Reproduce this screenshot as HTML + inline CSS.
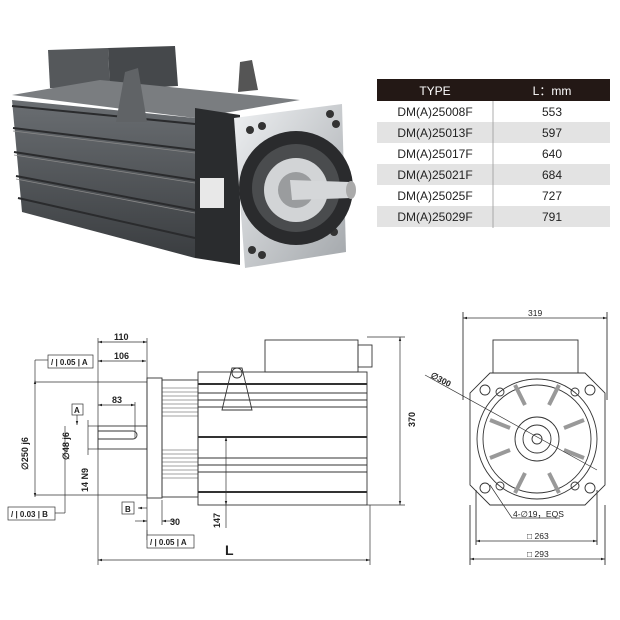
<!DOCTYPE html>
<html><head><meta charset="utf-8"><style>
body{margin:0;background:#fff}
svg{display:block}
text{font-family:"Liberation Sans",sans-serif;fill:#222}
</style></head><body>
<svg width="620" height="620" viewBox="0 0 620 620" xmlns="http://www.w3.org/2000/svg">
<defs>
<linearGradient id="bd" x1="0" y1="0" x2="0" y2="1"><stop offset="0" stop-color="#6a6e72"/><stop offset="1" stop-color="#3a3d40"/></linearGradient>
<linearGradient id="sv" x1="0" y1="0" x2="1" y2="1"><stop offset="0" stop-color="#eef0f2"/><stop offset="1" stop-color="#a3a7ab"/></linearGradient>
<marker id="a" viewBox="0 0 10 10" refX="10" refY="5" markerWidth="6" markerHeight="6" orient="auto-start-reverse"><path d="M0,2 L10,5 L0,8z" fill="#222"/></marker>
</defs>
<!-- PHOTO -->
<polygon points="48,50 108,48 110,90 50,88" fill="#55585b"/>
<polygon points="108,48 175,46 178,86 110,90" fill="#45484b"/>
<polygon points="12,95 100,80 300,100 195,118" fill="#7a7d80"/>
<polygon points="12,100 195,118 195,258 22,212" fill="url(#bd)"/>
<g stroke="#2a2b2d" stroke-width="2"><line x1="12" y1="106" x2="195" y2="124"/><line x1="13" y1="128" x2="195" y2="150"/><line x1="14" y1="152" x2="195" y2="180"/><line x1="16" y1="176" x2="195" y2="210"/><line x1="18" y1="198" x2="195" y2="238"/></g>
<g stroke="#888" stroke-width="0.8"><line x1="13" y1="131" x2="195" y2="153"/><line x1="14" y1="155" x2="195" y2="183"/><line x1="16" y1="179" x2="195" y2="213"/></g>
<polygon points="125,72 138,68 147,122 116,122" fill="#606366"/>
<polygon points="240,62 252,60 258,90 238,92" fill="#555"/>
<polygon points="195,108 240,115 240,265 195,258" fill="#2a2c2e"/>
<rect x="200" y="178" width="24" height="30" fill="#e8e8e8"/>
<polygon points="234,118 342,104 346,252 245,268" fill="url(#sv)"/>
<g fill="#333"><circle cx="250" cy="130" r="4"/><circle cx="262" cy="126" r="4"/><circle cx="330" cy="114" r="4"/><circle cx="336" cy="124" r="4"/><circle cx="252" cy="250" r="4"/><circle cx="262" cy="255" r="4"/><circle cx="334" cy="232" r="4"/><circle cx="337" cy="220" r="4"/></g>
<circle cx="296" cy="188" r="57" fill="#2a2b2d"/>
<circle cx="296" cy="188" r="44" fill="#4a4c4e"/>
<circle cx="296" cy="190" r="32" fill="#d2d4d6"/>
<circle cx="296" cy="190" r="18" fill="#9a9c9e"/>
<polygon points="290,180 350,182 352,198 292,200" fill="#d5d7d9"/>
<ellipse cx="351" cy="190" rx="5" ry="9" fill="#aaa"/>
<!-- TABLE -->
<rect x="377" y="79" width="233" height="22" fill="#231815"/>
<rect x="377" y="122" width="233" height="21" fill="#e3e3e3"/>
<rect x="377" y="164" width="233" height="21" fill="#e3e3e3"/>
<rect x="377" y="206" width="233" height="21" fill="#e3e3e3"/>
<line x1="493" y1="101" x2="493" y2="228" stroke="#999" stroke-width="0.8"/>
<g font-size="12" text-anchor="middle">
<text x="435" y="95" style="fill:#fff">TYPE</text><text x="552" y="95" style="fill:#fff">L：mm</text>
<text x="435" y="116">DM(A)25008F</text><text x="552" y="116">553</text>
<text x="435" y="137">DM(A)25013F</text><text x="552" y="137">597</text>
<text x="435" y="158">DM(A)25017F</text><text x="552" y="158">640</text>
<text x="435" y="179">DM(A)25021F</text><text x="552" y="179">684</text>
<text x="435" y="200">DM(A)25025F</text><text x="552" y="200">727</text>
<text x="435" y="221">DM(A)25029F</text><text x="552" y="221">791</text>
</g>
<!-- SIDE VIEW -->
<g fill="none" stroke="#333" stroke-width="0.9">
<rect x="265" y="340" width="93" height="32"/>
<rect x="358" y="345" width="14" height="22"/>
<rect x="198" y="372" width="169" height="133"/>
<line x1="198" y1="384" x2="367" y2="384" stroke-width="2"/>
<line x1="198" y1="393" x2="367" y2="393"/><line x1="198" y1="400" x2="367" y2="400"/><line x1="198" y1="407" x2="367" y2="407"/>
<line x1="198" y1="437" x2="367" y2="437" stroke-width="2"/>
<line x1="198" y1="458" x2="367" y2="458"/><line x1="198" y1="465" x2="367" y2="465"/><line x1="198" y1="472" x2="367" y2="472"/>
<line x1="198" y1="492" x2="367" y2="492" stroke-width="2"/>
<path d="M222,410 L232,368 L242,368 L252,410 Z"/><circle cx="237" cy="373" r="5"/>
<rect x="147" y="378" width="15" height="120"/>
<rect x="162" y="380" width="36" height="117"/>
<rect x="98" y="426" width="49" height="23"/>
<path d="M98,431 H133 A4,4 0 0 1 133,439 H98"/>
</g>
<g stroke="#444" stroke-width="0.5">
<line x1="162" y1="388" x2="198" y2="388"/><line x1="162" y1="392" x2="198" y2="392"/><line x1="162" y1="396" x2="198" y2="396"/><line x1="162" y1="400" x2="198" y2="400"/><line x1="162" y1="404" x2="198" y2="404"/><line x1="162" y1="408" x2="198" y2="408"/><line x1="162" y1="412" x2="198" y2="412"/><line x1="162" y1="416" x2="198" y2="416"/>
<line x1="162" y1="450" x2="198" y2="450"/><line x1="162" y1="454" x2="198" y2="454"/><line x1="162" y1="458" x2="198" y2="458"/><line x1="162" y1="462" x2="198" y2="462"/><line x1="162" y1="466" x2="198" y2="466"/><line x1="162" y1="470" x2="198" y2="470"/><line x1="162" y1="474" x2="198" y2="474"/><line x1="162" y1="478" x2="198" y2="478"/>
</g>
<!-- dims -->
<g stroke="#333" stroke-width="0.7" fill="none">
<line x1="98" y1="338" x2="98" y2="565"/><line x1="147" y1="338" x2="147" y2="540"/>
<line x1="98" y1="342" x2="147" y2="342" marker-start="url(#a)" marker-end="url(#a)"/>
<line x1="98" y1="361" x2="146" y2="361" marker-start="url(#a)" marker-end="url(#a)"/>
<line x1="98" y1="405" x2="135" y2="405" marker-start="url(#a)" marker-end="url(#a)"/><line x1="135" y1="402" x2="135" y2="438"/>
<line x1="98" y1="560" x2="370" y2="560" marker-start="url(#a)" marker-end="url(#a)"/>
<line x1="370" y1="505" x2="370" y2="565"/>
<line x1="35" y1="382" x2="147" y2="382"/><line x1="35" y1="495" x2="147" y2="495"/>
<line x1="35" y1="380" x2="35" y2="497" marker-start="url(#a)" marker-end="url(#a)"/>
<line x1="35" y1="360" x2="35" y2="380"/><line x1="35" y1="360" x2="48" y2="360"/>
<line x1="88" y1="426" x2="98" y2="426"/><line x1="88" y1="449" x2="98" y2="449"/>
<line x1="88" y1="420" x2="88" y2="455"/>
<line x1="65" y1="426" x2="65" y2="513"/><line x1="55" y1="513" x2="65" y2="513"/>
<line x1="77" y1="414" x2="77" y2="425" marker-end="url(#a)"/>
<line x1="147" y1="508" x2="138" y2="508" marker-end="url(#a)"/>
<line x1="135" y1="521" x2="147" y2="521" marker-end="url(#a)"/><line x1="175" y1="521" x2="162" y2="521" marker-end="url(#a)"/><line x1="162" y1="500" x2="162" y2="525"/>
<line x1="147" y1="530" x2="147" y2="540"/>
<line x1="226" y1="437" x2="226" y2="505" marker-start="url(#a)" marker-end="url(#a)"/><line x1="226" y1="505" x2="226" y2="528"/>
<line x1="367" y1="337" x2="405" y2="337"/><line x1="367" y1="505" x2="405" y2="505"/>
<line x1="400" y1="337" x2="400" y2="505" marker-start="url(#a)" marker-end="url(#a)"/>
</g>
<g font-size="9" font-weight="bold">
<text x="114" y="340">110</text><text x="114" y="359">106</text><text x="112" y="403">83</text>
<text x="170" y="525">30</text>
<text x="220" y="528" transform="rotate(-90 220 528)">147</text>
<text x="415" y="427" transform="rotate(-90 415 427)">370</text>
<text x="28" y="470" transform="rotate(-90 28 470)">∅250 j6</text>
<text x="69" y="460" transform="rotate(-90 69 460)">∅48 j6</text>
<text x="88" y="492" transform="rotate(-90 88 492)">14 N9</text>
<text x="225" y="555" font-size="14">L</text>
</g>
<g fill="#fff" stroke="#333" stroke-width="0.7">
<rect x="48" y="355" width="45" height="13"/><rect x="72" y="404" width="11" height="11"/>
<rect x="8" y="507" width="47" height="13"/><rect x="122" y="502" width="12" height="12"/>
<rect x="147" y="535" width="47" height="13"/>
</g>
<g font-size="8" font-weight="bold">
<text x="51" y="365">/ | 0.05 | A</text><text x="74" y="413">A</text>
<text x="11" y="517">/ | 0.03 | B</text><text x="125" y="512">B</text>
<text x="150" y="545">/ | 0.05 | A</text>
</g>
<!-- FRONT VIEW -->
<g fill="none" stroke="#333" stroke-width="0.9">
<rect x="493" y="340" width="85" height="33"/>
<polygon points="490,373 585,373 605,393 605,485 585,505 490,505 470,485 470,393"/>
<circle cx="537" cy="439" r="60"/><circle cx="537" cy="439" r="54"/>
<circle cx="537" cy="439" r="22"/><circle cx="537" cy="439" r="14"/><circle cx="537" cy="439" r="5"/>
<circle cx="485" cy="390" r="5"/><circle cx="590" cy="390" r="5"/><circle cx="485" cy="488" r="5"/><circle cx="590" cy="488" r="5"/>
<circle cx="500" cy="392" r="4"/><circle cx="575" cy="392" r="4"/><circle cx="500" cy="486" r="4"/><circle cx="575" cy="486" r="4"/>
<line x1="463" y1="312" x2="463" y2="400"/><line x1="607" y1="312" x2="607" y2="400"/>
<line x1="470" y1="505" x2="470" y2="565"/><line x1="605" y1="505" x2="605" y2="565"/>
<line x1="476" y1="490" x2="476" y2="545"/><line x1="597" y1="490" x2="597" y2="545"/>
</g>
<g stroke="#999" stroke-width="4">
<line x1="515" y1="385" x2="525" y2="405"/><line x1="559" y1="385" x2="549" y2="405"/>
<line x1="490" y1="420" x2="510" y2="428"/><line x1="584" y1="420" x2="564" y2="428"/>
<line x1="490" y1="458" x2="510" y2="450"/><line x1="584" y1="458" x2="564" y2="450"/>
<line x1="515" y1="493" x2="525" y2="473"/><line x1="559" y1="493" x2="549" y2="473"/>
</g>
<g stroke="#333" stroke-width="0.7" fill="none">
<line x1="463" y1="318" x2="607" y2="318" marker-start="url(#a)" marker-end="url(#a)"/>
<line x1="476" y1="541" x2="597" y2="541" marker-start="url(#a)" marker-end="url(#a)"/>
<line x1="470" y1="559" x2="605" y2="559" marker-start="url(#a)" marker-end="url(#a)"/>
<line x1="425" y1="375" x2="597" y2="470"/>
<path d="M490,485 L512,518 H560"/>
</g>
<g font-size="8.5">
<text x="528" y="316">319</text>
<text x="430" y="377" transform="rotate(28 430 377)" font-weight="bold">∅300</text>
<text x="513" y="517">4-∅19，EQS</text>
<text x="527" y="539">□ 263</text><text x="527" y="557">□ 293</text>
</g>
</svg>
</body></html>
